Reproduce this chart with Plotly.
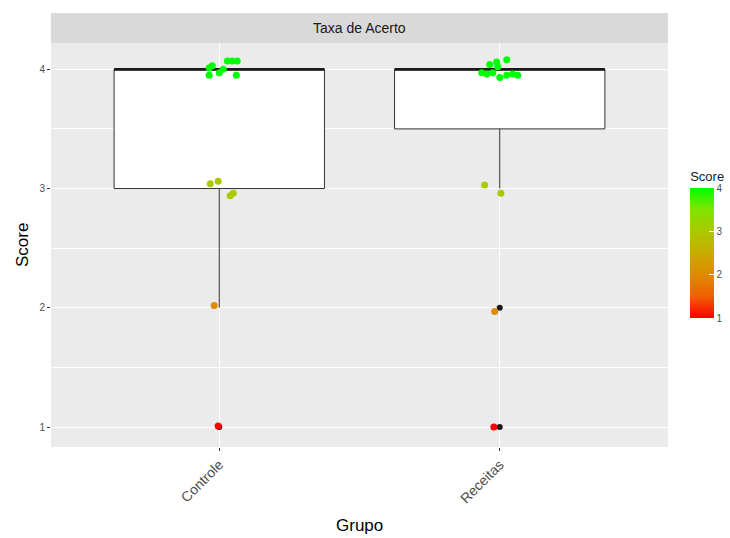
import numpy as np
import plotly.graph_objects as go

# Groups and their positions on the x axis
groups = ["Controle", "Receitas"]
group_pos = [0, 1]

# Raw scores per group
score_controle = [4, 4, 4, 4, 4, 4, 4, 4, 4, 3, 3, 3, 3, 2, 1]
score_receitas = [4, 4, 4, 4, 4, 4, 4, 4, 4, 4, 4, 3, 3, 2, 1]

# Jittered positions of the plotted points (horizontal offset, jittered score)
jit_x_controle = [-0.036, -0.025, -0.036, 0.000, 0.014, 0.029, 0.046, 0.064, 0.061,
                  -0.032, -0.004, 0.050, 0.039, -0.018, -0.004]
jit_y_controle = [4.01, 4.03, 3.95, 3.97, 4.00, 4.07, 4.07, 4.07, 3.95,
                  3.04, 3.06, 2.96, 2.94, 2.02, 1.01]
jit_x_receitas = [-0.036, -0.011, 0.025, -0.064, -0.046, -0.025, 0.000, 0.025, 0.046, 0.064, -0.007,
                  -0.054, 0.004, -0.018, -0.021]
jit_y_receitas = [4.04, 4.06, 4.08, 3.97, 3.96, 3.97, 3.93, 3.95, 3.96, 3.95, 4.02,
                  3.03, 2.96, 1.97, 1.00]

y_ticks = [1, 2, 3, 4]
y_minor = [1.5, 2.5, 3.5]

# Red -> green gradient (interpolated in Lab space)
colorscale = [
    [0.0, "#FF0000"], [1 / 6, "#F16000"], [1 / 3, "#DF8A00"], [0.5, "#C8AB00"],
    [2 / 3, "#ABC900"], [5 / 6, "#80E400"], [1.0, "#00FF00"],
]

all_scores = [score_controle, score_receitas]
all_jx = [jit_x_controle, jit_x_receitas]
all_jy = [jit_y_controle, jit_y_receitas]


def box_stats(values):
    """Tukey box statistics with type-7 quantiles."""
    v = np.asarray(values, dtype=float)
    q1, med, q3 = np.percentile(v, [25, 50, 75])
    iqr = q3 - q1
    inside = v[(v >= q1 - 1.5 * iqr) & (v <= q3 + 1.5 * iqr)]
    lo, hi = inside.min(), inside.max()
    outliers = v[(v < lo) | (v > hi)]
    return q1, med, q3, lo, hi, outliers


fig = go.Figure()
box_w = 0.75

for pos, sc in zip(group_pos, all_scores):
    q1, med, q3, lo, hi, out = box_stats(sc)
    fig.add_trace(go.Box(
        x=[pos], q1=[q1], median=[med], q3=[q3], lowerfence=[lo], upperfence=[hi],
        width=box_w, whiskerwidth=0, boxpoints=False,
        fillcolor="white", line=dict(color="#333333", width=1),
        showlegend=False,
    ))
    fig.add_trace(go.Scatter(
        x=[pos - box_w / 2, pos + box_w / 2], y=[med, med], mode="lines",
        line=dict(color="#1a1a1a", width=2.5), showlegend=False, hoverinfo="skip",
    ))
    if len(out):
        fig.add_trace(go.Scatter(
            x=[pos] * len(out), y=out, mode="markers",
            marker=dict(color="#1a1a1a", size=6), showlegend=False,
        ))

for i, (pos, sc, jx, jy) in enumerate(zip(group_pos, all_scores, all_jx, all_jy)):
    fig.add_trace(go.Scatter(
        x=[pos + d for d in jx], y=jy, mode="markers",
        marker=dict(
            color=sc, colorscale=colorscale, cmin=1, cmax=4, size=7,
            showscale=(i == 0),
            colorbar=dict(
                title=dict(text="Score", side="top",
                           font=dict(size=13, color="#1a1a1a")),
                x=1.036, xanchor="left", y=(447 - 318) / 404, yanchor="bottom",
                lenmode="pixels", len=150, thickness=24,
                xpad=0, ypad=0, outlinewidth=0,
                tickvals=y_ticks, ticks="inside", tickcolor="white", ticklen=5,
                tickfont=dict(size=10, color="#4D4D4D"),
            ),
        ),
        showlegend=False,
    ))

font_family = "Liberation Sans, Arial, sans-serif"

fig.update_layout(
    width=730, height=538,
    margin=dict(l=51, r=62, t=43, b=91, autoexpand=False),
    paper_bgcolor="white", plot_bgcolor="#EBEBEB",
    font=dict(family=font_family),
    xaxis=dict(
        range=[-0.6, 1.6], tickvals=group_pos, ticktext=groups, tickangle=-45,
        tickfont=dict(size=14, color="#4D4D4D"),
        ticks="outside", ticklen=3, tickcolor="#333333",
        showgrid=True, gridcolor="white", gridwidth=1.1, zeroline=False,
        showline=False,
    ),
    yaxis=dict(
        range=[0.833, 4.22], tickvals=y_ticks,
        tickfont=dict(size=10, color="#4D4D4D"),
        ticks="outside", ticklen=3, tickcolor="#333333",
        showgrid=True, gridcolor="white", gridwidth=1.1, zeroline=False,
        minor=dict(tickvals=y_minor, showgrid=True, gridcolor="white", gridwidth=0.5),
        showline=False,
    ),
    shapes=[dict(
        type="rect", xref="paper", yref="paper", x0=0, x1=1, y0=1, y1=1 + 30 / 404,
        fillcolor="#D9D9D9", line=dict(width=0), layer="below",
    )],
    annotations=[
        dict(text="Taxa de Acerto", xref="paper", yref="paper", x=0.5, y=1 + 15 / 404,
             showarrow=False, font=dict(size=14, color="#1a1a1a"), yanchor="middle"),
        dict(text="Score", xref="paper", yref="paper", x=(22 - 51) / 617, y=0.5,
             textangle=-90, showarrow=False, font=dict(size=17, color="black"),
             xanchor="center", yanchor="middle"),
        dict(text="Grupo", xref="paper", yref="paper", x=0.5, y=(447 - 525) / 404,
             showarrow=False, font=dict(size=17, color="black"),
             xanchor="center", yanchor="middle"),
    ],
)

fig.write_html("out.html")
